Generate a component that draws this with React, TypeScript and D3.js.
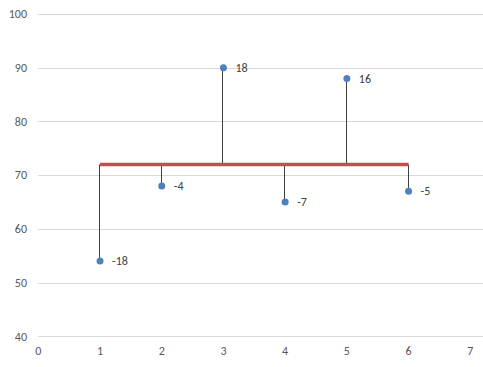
import React from "react";
import * as d3 from "d3";

const xValues = [1, 2, 3, 4, 5, 6];
const yValues = [54, 68, 90, 65, 88, 67];
const meanValue = 72;
const yTicks = [40, 50, 60, 70, 80, 90, 100];
const xTicks = [0, 1, 2, 3, 4, 5, 6, 7];

const W = 483;
const H = 367;

export default function App() {
  const x = d3.scaleLinear().domain([0, 7]).range([38.3, 470.3]);
  const y = d3.scaleLinear().domain([40, 100]).range([336.3, 14]);
  const font = "Calibri, Carlito, 'Liberation Sans', Arial, sans-serif";
  return (
    <svg
      width={W}
      height={H}
      style={{ position: "absolute", left: 0, top: 0, background: "#fff" }}
      fontFamily={font}
    >
      {yTicks.map((t) => (
        <g key={"y" + t}>
          <line x1={38} x2={483} y1={Math.round(y(t)) + 0.5} y2={Math.round(y(t)) + 0.5} stroke="#d9d9d9" strokeWidth={1} />
          <text x={27} y={y(t)} dy="0.35em" textAnchor="end" fontSize={12} fill="#595959">
            {t}
          </text>
        </g>
      ))}
      {xTicks.map((t) => (
        <text key={"x" + t} x={x(t)} y={351} dy="0.35em" textAnchor="middle" fontSize={12} fill="#595959">
          {t}
        </text>
      ))}
      {xValues.map((xv, i) => (
        <line
          key={"s" + i}
          x1={Math.round(x(xv)) - 0.5}
          x2={Math.round(x(xv)) - 0.5}
          y1={y(meanValue)}
          y2={y(yValues[i])}
          stroke="#404040"
          strokeWidth={1}
        />
      ))}
      <line
        x1={x(xValues[0])}
        x2={x(xValues[xValues.length - 1])}
        y1={y(meanValue)}
        y2={y(meanValue)}
        stroke="#C0504D"
        strokeWidth={3.5}
      />
      {xValues.map((xv, i) => (
        <g key={"p" + i}>
          <circle cx={x(xv)} cy={y(yValues[i])} r={3.5} fill="#4F81BD" />
          <text x={x(xv) + 12} y={y(yValues[i])} dy="0.35em" fontSize={12} fill="#404040">
            {yValues[i] - meanValue}
          </text>
        </g>
      ))}
    </svg>
  );
}
